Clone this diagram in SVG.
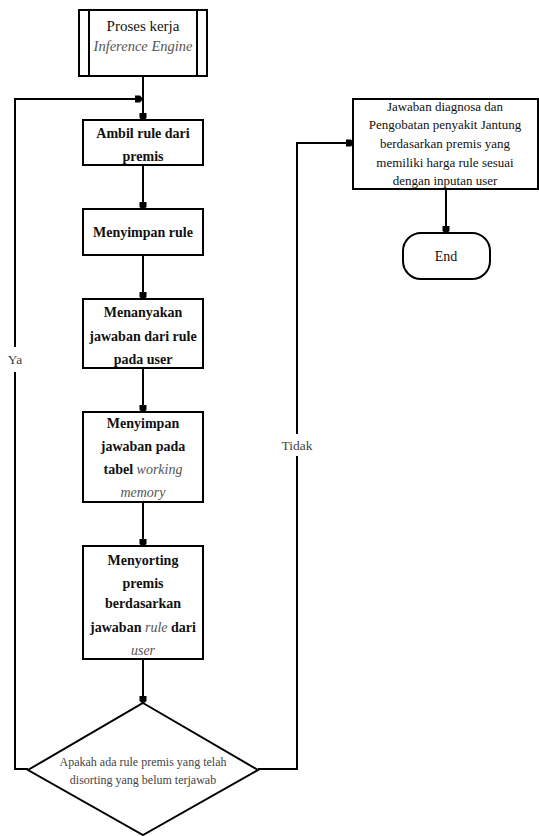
<svg xmlns="http://www.w3.org/2000/svg" width="539" height="836" viewBox="0 0 539 836">
<style>
.box{fill:#fff;stroke:#000;stroke-width:2}
.ln{fill:none;stroke:#000;stroke-width:2}
.t{font-family:"Liberation Serif","DejaVu Serif",serif;text-anchor:middle;fill:#111}
.b{font-size:14px;font-weight:bold}
.s{font-size:13px}
.lab{font-size:12px;fill:#444}
.i{font-style:italic;font-weight:normal;fill:#555}
</style>
<defs>
<marker id="ah" viewBox="0 0 8 8" refX="7" refY="4" markerWidth="8" markerHeight="8" markerUnits="userSpaceOnUse" orient="auto">
<path d="M0,0.5 L5,0.5 L8,4 L5,7.5 L0,7.5 Z" fill="#000"/>
</marker>
</defs>
<g id="start">
<rect class="box" x="79" y="10" width="128" height="66"/>
<line class="ln" x1="89" y1="10" x2="89" y2="76"/>
<line class="ln" x1="197" y1="10" x2="197" y2="76"/>
<text class="t" x="143" y="31" style="font-size:15px">Proses kerja</text>
<text class="t i" x="143" y="51" style="font-size:14.5px">Inference Engine</text>
</g>
<g id="n1">
<rect class="box" x="83" y="120" width="120" height="45"/>
<text class="t b" x="143" y="138">Ambil rule dari</text>
<text class="t b" x="143" y="161">premis</text>
</g>
<g id="n2">
<rect class="box" x="83" y="209" width="120" height="46"/>
<text class="t b" x="143" y="237">Menyimpan rule</text>
</g>
<g id="n3">
<rect class="box" x="83" y="299" width="120" height="69"/>
<text class="t b" x="143" y="317">Menanyakan</text>
<text class="t b" x="143" y="341">jawaban dari rule</text>
<text class="t b" x="143" y="364">pada user</text>
</g>
<g id="n4">
<rect class="box" x="83" y="412" width="120" height="90"/>
<text class="t b" x="143" y="428">Menyimpan</text>
<text class="t b" x="143" y="451">jawaban pada</text>
<text class="t b" x="143" y="474">tabel <tspan class="i">working</tspan></text>
<text class="t b i" x="143" y="497">memory</text>
</g>
<g id="n5">
<rect class="box" x="83" y="546" width="120" height="113"/>
<text class="t b" x="143" y="565">Menyorting</text>
<text class="t b" x="143" y="588">premis</text>
<text class="t b" x="143" y="608">berdasarkan</text>
<text class="t b" x="143" y="632">jawaban <tspan class="i">rule</tspan> dari</text>
<text class="t b i" x="143" y="655">user</text>
</g>
<g id="decision">
<polygon class="box" points="143,703 258,770 143,835 28,770"/>
<text class="t lab" x="143" y="766">Apakah ada rule premis yang telah</text>
<text class="t lab" x="143" y="784">disorting yang belum terjawab</text>
</g>
<g id="result">
<rect class="box" x="353" y="99" width="185" height="90"/>
<text class="t s" x="445" y="111">Jawaban diagnosa dan</text>
<text class="t s" x="445" y="129">Pengobatan penyakit Jantung</text>
<text class="t s" x="445" y="148">berdasarkan premis yang</text>
<text class="t s" x="445" y="167">memiliki harga rule sesuai</text>
<text class="t s" x="445" y="185">dengan inputan user</text>
</g>
<g id="end">
<rect class="box" x="403" y="233" width="87" height="46" rx="18" ry="18"/>
<text class="t" x="446" y="261" style="font-size:14px">End</text>
</g>
<g id="connectors">
<line class="ln" x1="143" y1="76" x2="143" y2="120" marker-end="url(#ah)"/>
<line class="ln" x1="143" y1="165" x2="143" y2="209" marker-end="url(#ah)"/>
<line class="ln" x1="143" y1="255" x2="143" y2="299" marker-end="url(#ah)"/>
<line class="ln" x1="143" y1="368" x2="143" y2="412" marker-end="url(#ah)"/>
<line class="ln" x1="143" y1="502" x2="143" y2="546" marker-end="url(#ah)"/>
<line class="ln" x1="143" y1="659" x2="143" y2="703" marker-end="url(#ah)"/>
<polyline class="ln" points="28,769 15,769 15,372"/>
<polyline class="ln" points="15,347 15,99 142,99" marker-end="url(#ah)"/>
<text class="t lab" x="15" y="364" style="font-size:13.5px">Ya</text>
<polyline class="ln" points="258,769 297,769 297,456"/>
<polyline class="ln" points="297,434 297,143 353,143" marker-end="url(#ah)"/>
<text class="t lab" x="297" y="450" style="font-size:13.5px">Tidak</text>
<line class="ln" x1="446" y1="189" x2="446" y2="233" marker-end="url(#ah)"/>
</g>
</svg>
